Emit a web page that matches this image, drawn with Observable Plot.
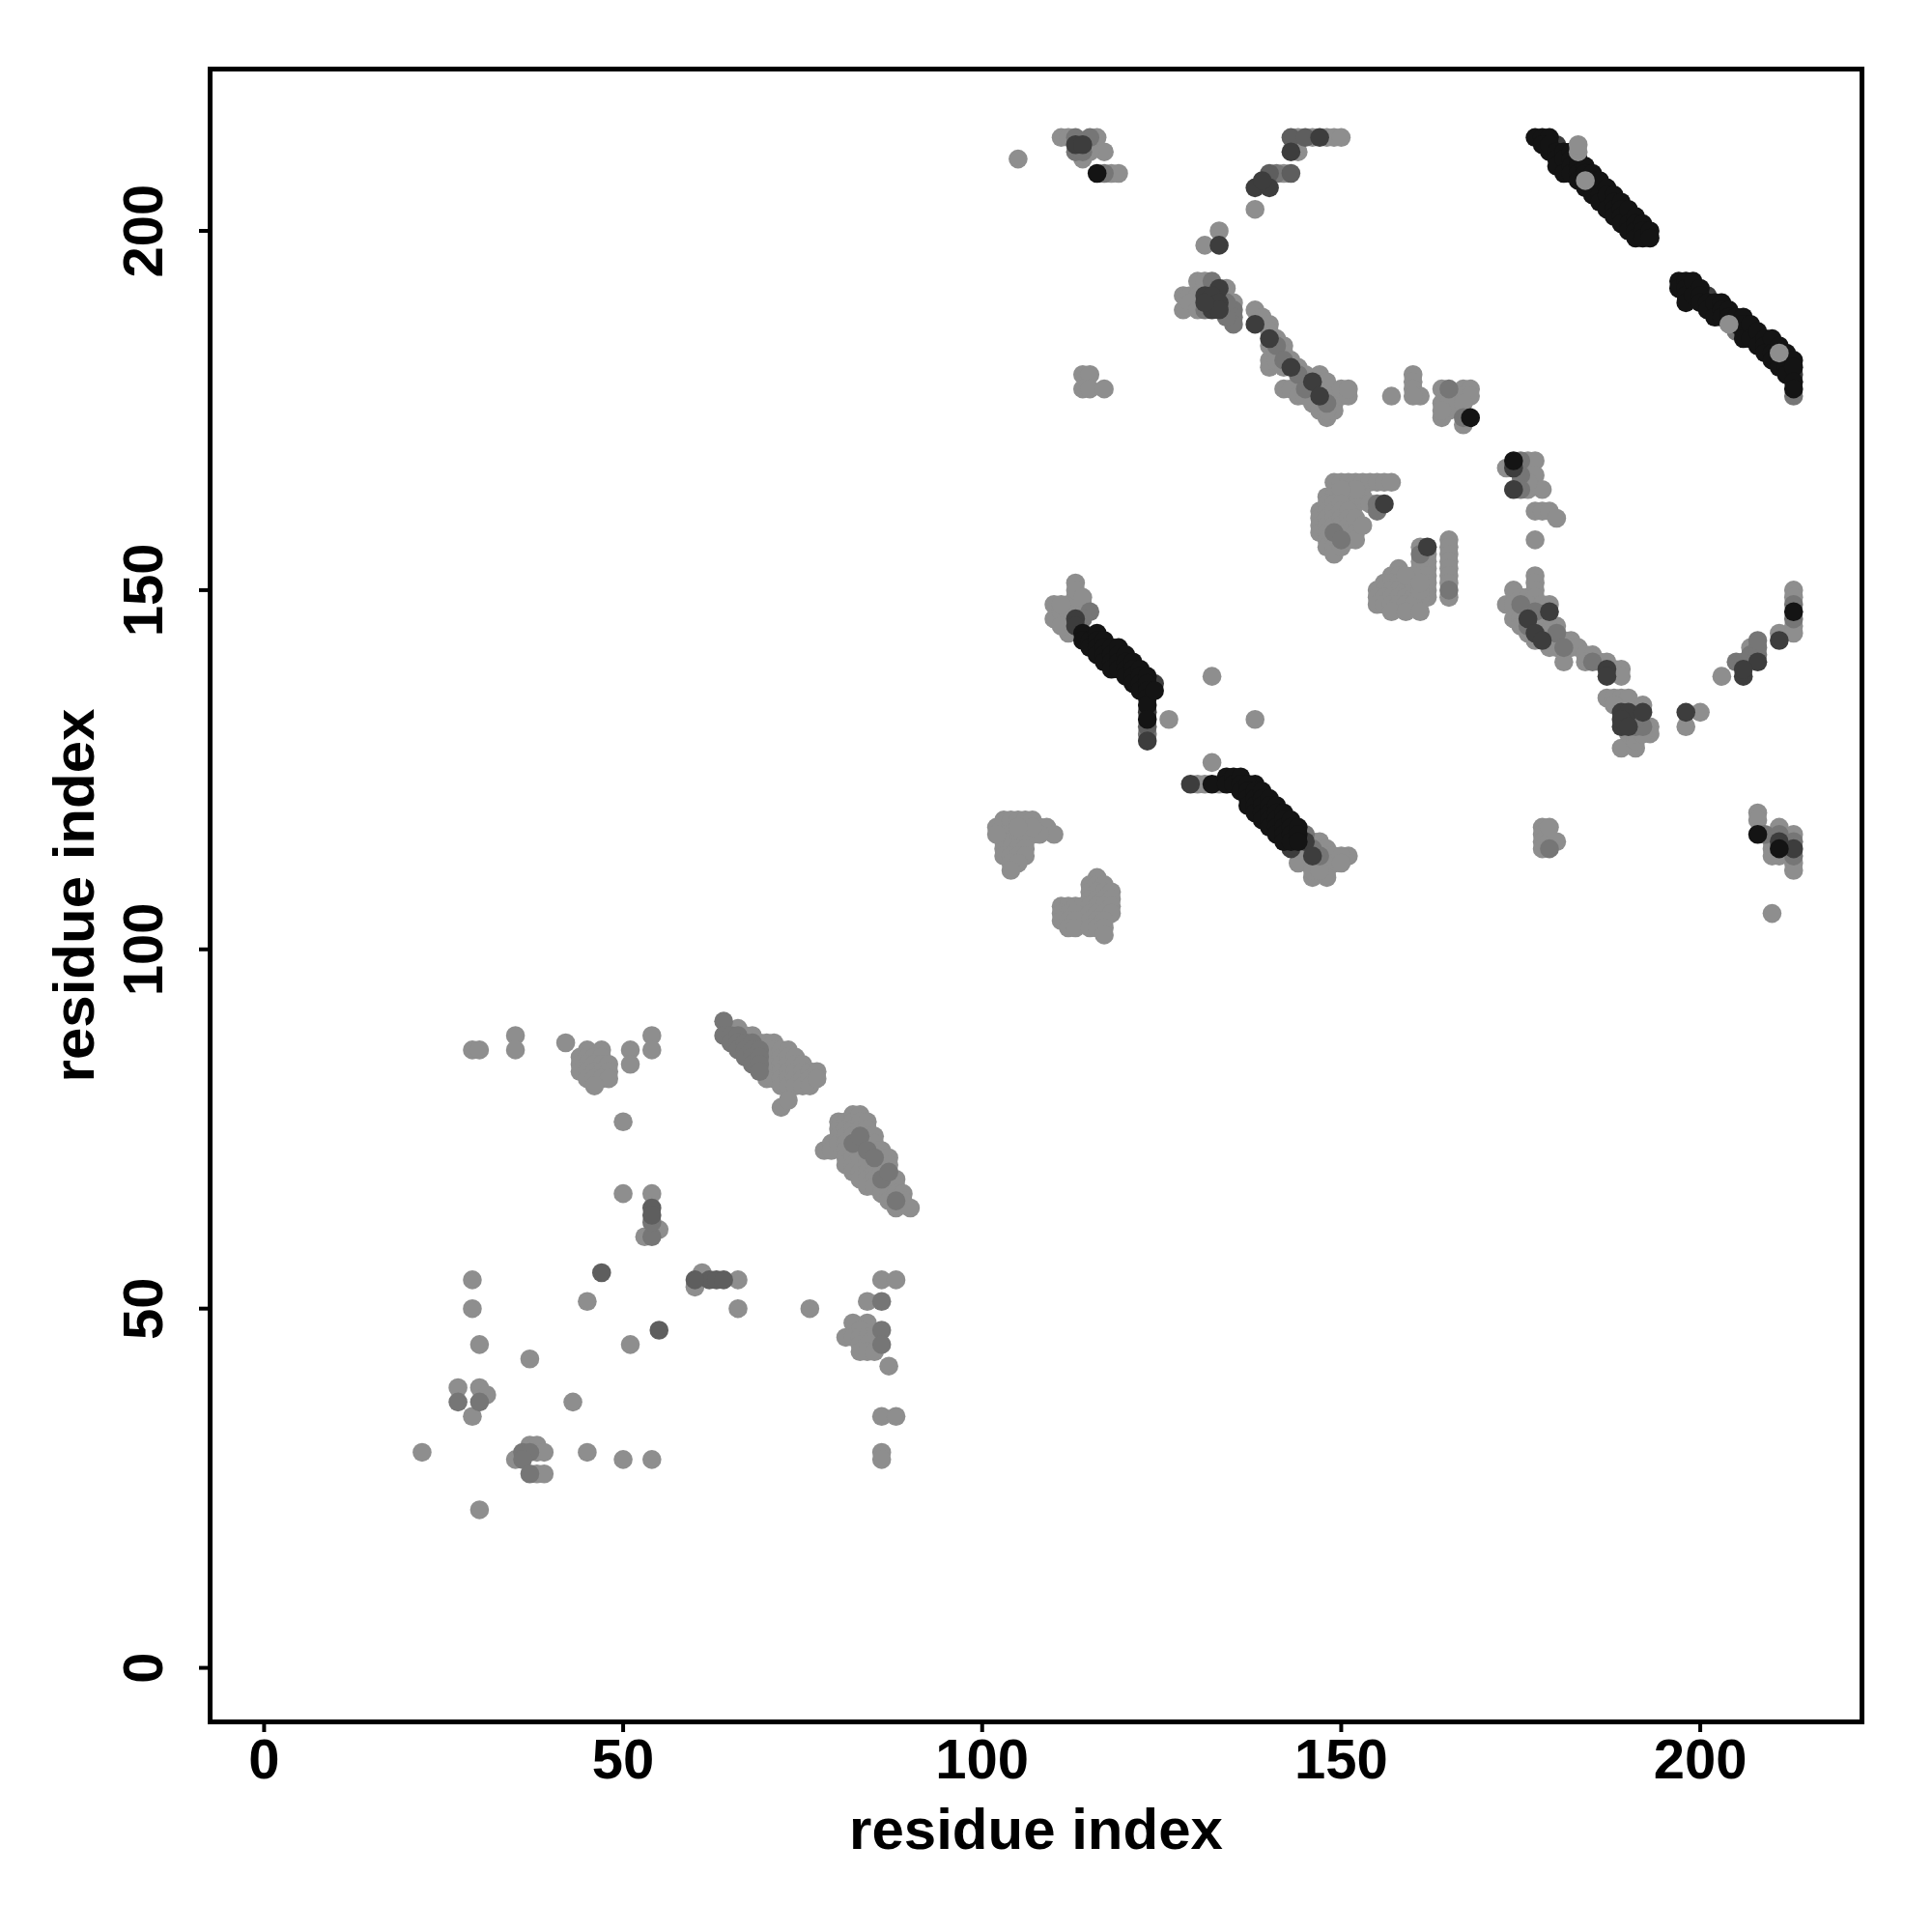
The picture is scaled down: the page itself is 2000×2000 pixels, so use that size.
<!DOCTYPE html>
<html>
<head>
<meta charset="utf-8">
<script src="https://cdn.jsdelivr.net/npm/d3@7"></script>
<script src="https://cdn.jsdelivr.net/npm/@observablehq/plot@0.6"></script>
<style>
  html, body { margin: 0; padding: 0; background: #ffffff; }
  #chart svg { display: block; }
</style>
</head>
<body>
<div id="chart"></div>
<script>
// ---------- chart values ----------
const xTicks = [0, 50, 100, 150, 200];
const yTicks = [0, 50, 100, 150, 200];
const xTitle = "residue index";
const yTitle = "residue index";
const axisDomain = [-7.52, 222.52];

// contacts (residue i, residue j), grouped by grey level
const contactsLight = [
  [29,86],[30,86],[35,88],[35,86],[42,87],
  [45,86],[47,86],[44,85],[45,85],[46,85],[47,85],[44,84],[45,84],[46,84],[47,84],[48,84],[44,83],[45,83],[46,83],[47,83],[48,83],[45,82],[46,82],[47,82],[48,82],[46,81],
  [51,86],[51,84],[54,88],[54,86],[50,76],[50,66],[54,66],
  [66,89],[67,88],[68,88],[69,87],
  [70,87],[70,86],[70,85],[70,84],[70,83],[70,82],[71,87],[71,86],[71,85],[71,84],[71,83],[71,82],
  [72,86],[72,85],[72,84],[72,83],[72,82],[72,81],[73,86],[73,85],[73,84],[73,83],[73,82],[73,81],
  [74,85],[74,84],[74,83],[74,82],[74,81],[75,84],[75,83],[75,82],[75,81],[76,83],[76,82],[76,81],[77,83],[77,82],[72,78],[73,79],
  [78,72],[79,73],[79,72],[80,76],[80,75],[80,74],[80,73],[81,76],[81,75],[81,74],[81,73],[81,72],[81,71],[81,70],
  [82,77],[82,76],[82,75],[82,74],[82,72],[82,71],[82,70],[82,69],[83,77],[83,76],[83,75],[83,73],[83,72],[83,71],[83,69],[83,68],
  [84,76],[84,75],[84,74],[84,73],[84,71],[84,70],[84,69],[84,68],[84,67],[85,74],[85,73],[85,72],[85,70],[85,69],[85,68],[85,67],
  [86,72],[86,71],[86,70],[86,69],[86,67],[86,66],[87,71],[87,70],[87,68],[87,67],[87,66],[87,65],[88,68],[88,67],[88,66],[88,64],[89,66],[89,65],[90,64],
  [29,54],[29,50],[30,45],[37,43],[27,39],[30,39],[31,38],[29,35],[43,37],[22,30],[37,31],[38,31],[38,30],[39,30],[35,29],[38,27],[39,27],
  [45,30],[50,29],[54,29],[30,22],[45,51],[51,45],[60,53],[61,55],[66,54],[66,50],[76,50],[86,54],[88,54],[84,51],
  [82,48],[84,48],[83,47],[81,46],[82,46],[83,46],[84,46],[85,46],[83,45],[84,45],[83,44],[84,44],[85,44],[87,42],[86,35],[88,35],[86,30],[86,29],[53,60],[55,61],
  [105,210],[111,213],[112,213],[116,213],[117,211],[114,210],[118,208],[119,208],[115,211],
  [138,203],[142,208],[144,213],[146,213],[148,213],[149,213],[150,213],[144,211],[133,200],[131,198],
  [130,193],[131,193],[128,191],[129,191],[130,191],[128,189],[129,190],[130,189],[134,192],[135,190],[138,189],
  [114,180],[115,180],[114,178],[115,178],[117,178],
  [139,188],[140,187],[140,186],[140,184],[140,181],[141,185],[142,184],[140,182],[141,183],[142,183],[141,182],[143,182],[142,181],[144,181],[145,180],[147,180],[147,179],[148,179],
  [142,178],[143,178],[144,177],[145,177],[146,176],[146,178],[147,175],[148,174],[149,177],[149,176],[149,175],[150,177],[150,178],[151,177],[151,178],[145,179],[148,175],
  [157,177],[160,180],[160,179],[160,178],[161,177],[160,177],[164,178],[165,177],[164,176],[165,175],[164,174],[165,176],[164,175],[167,178],[168,178],[167,177],[168,177],[167,176],[167,173],
  [173,167],[176,168],[177,168],[176,166],[177,166],[175,165],[176,164],[178,164],[176,165],[177,161],[178,161],[179,161],[180,160],[177,157],
  [149,165],[150,165],[151,165],[152,165],[153,165],[154,165],[155,165],[156,165],[157,165],
  [148,163],[149,163],[150,163],[151,163],[152,162],[153,163],[154,162],[152,164],[150,164],
  [147,161],[147,160],[147,159],[147,158],[148,162],[148,161],[148,160],[148,159],[148,158],[148,157],[148,156],[149,162],[149,161],[149,160],[149,159],[149,157],[149,156],[149,155],
  [150,162],[150,161],[150,160],[150,159],[150,158],[150,156],[151,161],[151,160],[151,159],[151,158],[151,157],[152,160],[152,158],[152,157],[153,159],
  [161,156],[162,155],[161,154],[162,154],[162,153],[161,153],[161,152],[162,152],[162,151],[162,150],[162,149],[158,153],[157,152],[158,152],
  [156,151],[157,151],[158,151],[159,151],[155,150],[156,150],[157,150],[158,150],[159,150],[160,150],[155,149],[156,149],[157,149],[158,149],[159,149],[160,149],[161,149],
  [155,148],[156,148],[157,148],[158,148],[159,148],[160,148],[157,147],[159,147],[161,147],[160,151],[160,152],[159,152],[161,150],[161,151],
  [165,157],[165,156],[165,155],[165,154],[165,153],[165,152],[165,151],[165,149],
  [177,152],[177,151],[177,150],[174,150],[175,149],[176,149],[177,149],[173,148],[174,148],[176,148],[178,148],[175,147],[176,147],[178,147],
  [174,146],[175,146],[177,146],[178,146],[175,145],[177,145],[176,144],[178,144],[177,143],[179,142],[180,142],
  [179,148],[180,145],[181,143],[182,143],[182,142],[183,142],[184,141],[185,141],[186,140],[187,140],[188,139],[189,139],[189,138],[184,140],[181,140],
  [187,135],[188,135],[189,135],[190,135],[192,134],[193,131],[193,130],[189,128],[191,128],[190,130],[191,129],[188,134],[191,130],[192,130],
  [200,133],[198,131],[203,138],[207,142],[211,144],[213,150],[213,149],[213,145],[213,144],
  [208,119],[208,118],[210,115],[210,114],[211,117],[211,113],[213,116],[213,112],[213,111],[212,114],[210,113],[210,105],
  [178,117],[178,116],[178,115],[178,114],[179,115],[180,115],[179,117],
  [132,138],[126,132],[138,132],[132,126],[130,123],[131,123],[133,123],
  [113,151],[110,148],[110,146],[111,147],[112,148],[114,148],[113,149],[113,150],[112,144],[112,146],[111,145],[111,148],[114,149],
  [145,114],[146,115],[147,115],[147,114],[147,112],[148,114],[148,113],[148,112],[148,111],[149,113],[149,112],[146,110],[148,110],[151,113],[150,113],[144,112],[146,111],[147,111],[150,112],
  [102,117],[103,118],[104,118],[105,118],[106,118],[107,118],[108,117],[109,117],[110,116],[103,116],[104,116],[105,116],[106,116],[107,116],[108,116],
  [103,115],[104,115],[105,115],[106,115],[103,114],[104,114],[105,114],[106,114],[103,113],[104,113],[105,113],[106,113],[104,112],[105,112],[104,111],[102,116],[107,117],[105,117],
  [116,110],[115,109],[116,109],[117,109],[115,108],[116,108],[117,108],[118,108],[115,107],[116,107],[117,107],[118,107],
  [111,106],[112,106],[113,106],[114,106],[115,106],[116,106],[117,106],[118,106],[111,105],[112,105],[113,105],[115,105],[116,105],[117,105],[118,105],
  [111,104],[112,104],[113,104],[115,104],[116,104],[117,104],[112,103],[113,103],[115,103],[116,103],[117,103],[117,102]
];

const contactsMid = [
  [64,90],[64,88],[65,88],[65,87],[66,88],[66,87],[66,86],[67,87],[67,86],[67,85],[68,87],[68,86],[68,85],[68,84],[69,86],[69,85],[69,84],[69,83],
  [82,73],[83,74],[84,72],[85,71],[86,68],[87,69],[88,65],[86,51],[86,47],[86,45],
  [27,37],[30,37],[36,30],[37,30],[36,29],[37,27],[54,60],[54,62],
  [113,213],[115,213],[113,211],[114,211],[117,208],[141,208],
  [132,193],[135,189],[135,188],[135,187],[134,188],[131,189],[134,190],
  [141,184],[142,182],[144,180],[145,178],[148,176],
  [165,178],[167,174],[175,168],[175,166],[175,164],[155,162],[155,161],[149,158],[150,157],[161,155],[165,150],
  [175,148],[177,147],[176,145],[180,144],[181,142],[185,140],
  [190,132],[191,131],[192,131],[191,132],
  [205,140],[206,140],[207,141],[208,142],[208,141],[208,143],[213,148],[213,146],
  [209,116],[211,116],[213,115],[213,113],[179,114],
  [115,147],[114,146],[123,130],[145,116],[146,114],[147,113],
  [181,209],[186,206],[187,204],[205,186],[207,186],[210,184],[213,177],[208,185]
];

const contactsMidDark = [
  [47,55],[55,47],[62,54],[63,54],[64,54],[54,64],[54,63],[60,54],
  [140,208],[143,208],[143,213],[145,213],[123,131]
];

const contactsDark = [
  [113,212],[114,212],[138,206],[140,206],[139,207],[147,213],[143,211],[133,198],
  [133,192],[131,191],[132,190],[132,191],[133,190],[132,189],[133,189],[131,190],[138,187],
  [140,185],[143,181],[146,179],[147,177],[174,167],[174,164],[156,162],[162,156],
  [176,146],[177,144],[178,143],[179,147],[187,139],[187,138],
  [189,133],[190,133],[192,133],[189,131],[189,132],[190,131],
  [198,133],[206,138],[208,140],[206,139],[211,143],[211,115],[213,114],
  [113,146],[113,145],[123,129],[123,133],[124,137],[129,123],[145,115],[146,113],[143,114],
  [180,212],[190,202],[213,180],[199,192],[201,191],[202,189]
];

const contactsBlack = [
  [116,208],[177,213],[178,213],[179,213],[179,211],[168,174],[174,168],[213,147],[208,116],[211,114],[132,123],[138,123],
  [114,144],[114,143],[115,143],[115,142],[116,144],[116,143],[116,142],[116,141],[117,143],[117,142],[117,141],[117,140],
  [118,142],[118,141],[118,140],[118,139],[119,142],[119,141],[119,140],[119,139],[120,141],[120,140],[120,139],[120,138],
  [121,140],[121,139],[121,138],[121,137],[122,139],[122,138],[122,137],[122,136],[123,138],[123,137],[123,136],[123,135],[123,134],[124,136],[123,132],
  [134,124],[134,123],[135,124],[135,123],[136,124],[136,123],[136,122],[137,123],[137,122],[137,121],[137,120],
  [138,122],[138,121],[138,120],[138,119],[139,122],[139,121],[139,120],[139,119],[139,118],
  [140,121],[140,120],[140,119],[140,118],[140,117],[141,120],[141,119],[141,118],[141,117],[141,116],
  [142,119],[142,118],[142,117],[142,116],[142,115],[143,118],[143,117],[143,116],[143,115],[144,117],[144,116],[144,115],
  [178,212],[179,212],[180,211],[180,210],[180,209],[181,211],[181,210],[181,208],[182,211],[182,210],[182,209],[182,208],
  [183,210],[183,209],[183,208],[183,207],[184,209],[184,208],[184,206],[185,208],[185,207],[185,206],[185,205],
  [186,207],[186,205],[186,204],[187,206],[187,205],[187,203],[188,205],[188,204],[188,203],[188,202],
  [189,204],[189,203],[189,202],[189,201],[190,203],[190,201],[190,200],[191,202],[191,201],[191,200],[191,199],
  [192,201],[192,200],[192,199],[193,200],[193,199],
  [197,193],[197,192],[198,193],[198,192],[198,191],[198,190],[199,193],[199,191],[200,192],[200,191],[200,190],[201,190],[201,189],
  [202,190],[202,188],[203,190],[203,189],[203,188],[204,189],[204,188],[205,188],[205,187],[206,188],[206,187],[206,186],[206,185],
  [207,187],[207,185],[208,186],[208,184],[209,185],[209,184],[209,183],[210,185],[210,183],[210,182],
  [211,184],[211,182],[211,181],[212,183],[212,182],[212,181],[212,180],[213,182],[213,181],[213,179],[213,178]
];

const contactsLight2 = [
  [183,211],[184,207],[204,187],[211,183],[183,212]
];

const shadeNames  = ["light", "mid", "midDark", "dark", "black", "light2"];
const shadeColors = ["#8e8e8e", "#767676", "#5e5e5e", "#3d3d3d", "#141414", "#8e8e8e"];
const shadeGroups = [contactsLight, contactsMid, contactsMidDark, contactsDark, contactsBlack, contactsLight2];

const contacts = shadeGroups.flatMap((g, k) => g.map(([i, j]) => ({i, j, shade: shadeNames[k]})));

// ---------- layout ----------
const W = 2000, H = 2000;
const mL = 217, mR = 73, mT = 71, mB = 218;
const font = "'Liberation Sans', Arial, Helvetica, sans-serif";

const chart = Plot.plot({
  width: W,
  height: H,
  marginLeft: mL,
  marginRight: mR,
  marginTop: mT,
  marginBottom: mB,
  x: {domain: axisDomain, axis: null},
  y: {domain: axisDomain, axis: null},
  color: {type: "ordinal", domain: shadeNames, range: shadeColors},
  style: {fontFamily: font, background: "#ffffff", color: "black"},
  marks: [
    Plot.dot(contacts, {x: "i", y: "j", r: 9.8, fill: "shade"}),
    Plot.frame({stroke: "black", strokeWidth: 5}),
    Plot.ruleX(xTicks, {x: d => d, insetTop: H - mT - mB, insetBottom: -11, stroke: "black", strokeWidth: 4}),
    Plot.ruleY(yTicks, {y: d => d, insetRight: W - mL - mR, insetLeft: -11, stroke: "black", strokeWidth: 4}),
    Plot.text(xTicks, {x: d => d, text: d => String(d), frameAnchor: "bottom", dy: 40, lineAnchor: "middle",
      fontSize: 58, fontWeight: "bold", fill: "black"}),
    Plot.text(yTicks, {y: d => d, text: d => String(d), frameAnchor: "left", dx: -68, rotate: -90,
      textAnchor: "middle", lineAnchor: "middle", fontSize: 58, fontWeight: "bold", fill: "black"}),
    Plot.text([xTitle], {text: d => d, frameAnchor: "bottom", dy: 112, lineAnchor: "middle",
      fontSize: 60, fontWeight: "bold", fill: "black"}),
    Plot.text([yTitle], {text: d => d, frameAnchor: "left", dx: -140, rotate: -90,
      textAnchor: "middle", lineAnchor: "middle", fontSize: 60, fontWeight: "bold", fill: "black"})
  ]
});

document.getElementById("chart").appendChild(chart);
</script>
</body>
</html>
